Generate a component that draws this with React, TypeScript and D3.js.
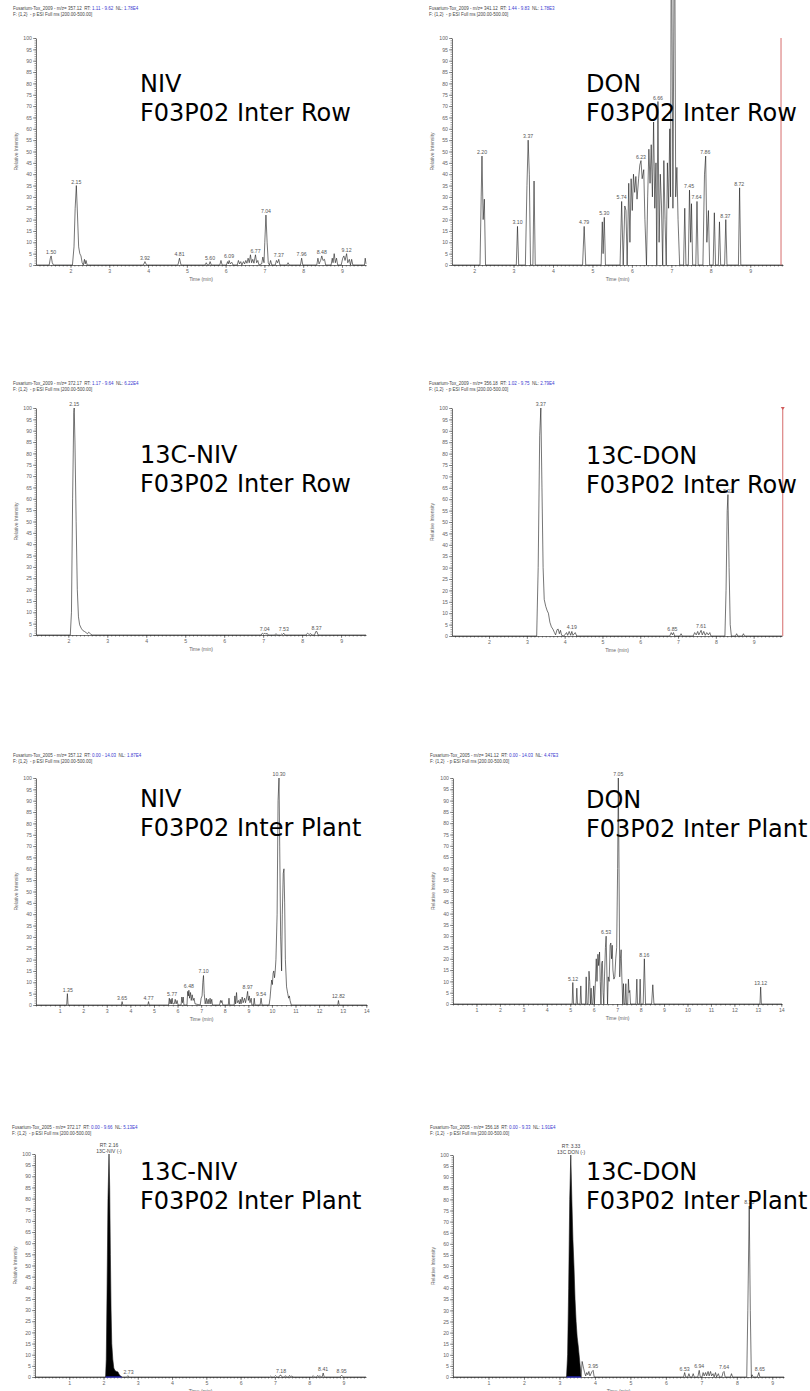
import { useEffect, useRef } from 'react';
import * as d3 from 'd3';

type Pt = [number, number];

// ---------- data: [time (min), relative intensity] ----------

const nivRowTrace: Pt[] = [
  [1.11, 0], [1.45, 0], [1.48, 3], [1.50, 4], [1.53, 1], [1.56, 0],
  [2.05, 0], [2.09, 8], [2.12, 25], [2.15, 35], [2.18, 22], [2.21, 8], [2.24, 5], [2.27, 4], [2.30, 1], [2.33, 0],
  [2.36, 2.5], [2.38, 0.5], [2.40, 2], [2.43, 0],
  [3.88, 0], [3.92, 1.5], [3.96, 0], [4.77, 0], [4.81, 3], [4.85, 0],
  [5.47, 0], [5.50, 1], [5.53, 0], [5.57, 0], [5.60, 1.5], [5.63, 0], [5.85, 0], [5.88, 2], [5.91, 0],
  [6.02, 0], [6.05, 1.5], [6.07, 0.5], [6.09, 2], [6.12, 0.5], [6.16, 1.2], [6.19, 0],
  [6.30, 0], [6.33, 2], [6.36, 0.5], [6.39, 1.5], [6.42, 0], [6.46, 1.5], [6.49, 0.5], [6.52, 2], [6.55, 0.8],
  [6.58, 3], [6.61, 1], [6.64, 4.5], [6.67, 1], [6.70, 2.5], [6.73, 0.8], [6.77, 4.5], [6.80, 1], [6.83, 2], [6.86, 0],
  [6.93, 0.5], [6.96, 3.5], [6.99, 1], [7.01, 10], [7.04, 22], [7.07, 10], [7.10, 1], [7.13, 0], [7.16, 2], [7.19, 0],
  [7.28, 0], [7.31, 2], [7.34, 1], [7.37, 2.5], [7.40, 0], [7.58, 0], [7.61, 1], [7.64, 0],
  [7.93, 0], [7.96, 3], [7.99, 0], [8.35, 0], [8.38, 3], [8.41, 0.5], [8.45, 2], [8.48, 4], [8.51, 2], [8.55, 2.5], [8.58, 0],
  [8.72, 0], [8.75, 3], [8.77, 1], [8.80, 5], [8.83, 1], [8.86, 3], [8.89, 0],
  [8.98, 0], [9.02, 3], [9.05, 4], [9.08, 2], [9.12, 5], [9.15, 1], [9.19, 2.5], [9.22, 0], [9.25, 2.5], [9.28, 0],
  [9.58, 0], [9.60, 3], [9.62, 0.5],
];
const nivRowLabels: Pt[] = [
  [1.50, 4], [2.15, 35], [3.92, 1.5], [4.81, 3], [5.60, 1.5], [6.09, 2], [6.77, 4.5], [7.04, 22], [7.37, 2.5], [7.96, 3], [8.48, 4], [9.12, 5],
];

const donRowTrace: Pt[] = [
  [1.44, 0], [2.15, 0], [2.18, 30], [2.20, 48], [2.23, 20], [2.26, 29], [2.29, 0],
  [3.07, 0], [3.10, 17], [3.13, 0], [3.30, 0], [3.34, 35], [3.37, 55], [3.40, 40], [3.43, 0], [3.49, 0], [3.52, 37], [3.55, 0],
  [4.75, 0], [4.79, 17], [4.83, 0], [5.22, 0], [5.25, 19], [5.27, 5], [5.30, 21], [5.33, 0],
  [5.70, 0], [5.74, 28], [5.78, 0], [5.82, 26], [5.85, 24], [5.88, 0], [5.92, 36], [5.95, 10], [5.98, 38], [6.01, 24],
  [6.04, 40], [6.07, 32], [6.10, 39], [6.13, 29], [6.17, 38], [6.20, 44], [6.23, 46], [6.26, 38], [6.30, 42], [6.33, 20],
  [6.37, 0], [6.40, 30], [6.43, 51], [6.46, 36], [6.49, 53], [6.52, 30], [6.55, 63], [6.58, 25], [6.61, 45], [6.63, 0],
  [6.66, 72], [6.69, 10], [6.72, 40], [6.75, 26], [6.78, 0], [6.81, 46], [6.84, 20], [6.87, 0], [6.90, 45], [6.93, 25],
  [6.96, 60], [6.98, 30], [7.00, 170], [7.04, 25], [7.08, 170], [7.11, 30], [7.14, 43], [7.17, 20], [7.21, 0],
  [7.31, 0], [7.34, 25], [7.37, 0], [7.43, 0], [7.46, 33], [7.49, 10], [7.51, 27], [7.54, 0], [7.62, 0], [7.65, 28], [7.68, 0],
  [7.80, 0], [7.84, 40], [7.87, 48], [7.90, 10], [7.94, 24], [7.97, 0], [8.06, 0], [8.09, 23], [8.12, 0],
  [8.19, 0], [8.22, 19], [8.25, 0], [8.35, 0], [8.38, 20], [8.41, 0], [8.70, 0], [8.73, 34], [8.76, 0], [9.83, 0],
];
const donRowLabels: Pt[] = [
  [2.20, 48], [3.10, 17], [3.37, 55], [4.79, 17], [5.30, 21], [5.74, 28], [6.23, 46], [6.66, 72], [7.45, 33], [7.64, 28], [7.86, 48], [8.37, 20], [8.72, 34],
];

const nivRow13CTrace: Pt[] = [
  [1.17, 0], [2.05, 0], [2.08, 10], [2.11, 60], [2.14, 98], [2.15, 100], [2.17, 85], [2.20, 50], [2.23, 20], [2.26, 8],
  [2.29, 4.5], [2.33, 3], [2.37, 2], [2.42, 1.5], [2.46, 1], [2.49, 0.5], [2.52, 1.2], [2.55, 0.8], [2.58, 0.3], [2.62, 0],
  [6.95, 0], [6.98, 0.8], [7.01, 0.3], [7.04, 0.9], [7.07, 0.3], [7.10, 0.8], [7.13, 0], [7.30, 0], [7.33, 0.6], [7.36, 0],
  [7.45, 0], [7.48, 0.5], [7.50, 0.2], [7.53, 0.8], [7.56, 0], [8.10, 0], [8.14, 0.8], [8.18, 0.2], [8.22, 0.6], [8.25, 0],
  [8.32, 0], [8.35, 1.5], [8.38, 1.5], [8.41, 0], [9.64, 0],
];
const nivRow13CLabels: Pt[] = [[2.15, 100], [7.04, 0.9], [7.53, 0.8], [8.37, 1.5]];

const donRow13CTrace: Pt[] = [
  [1.02, 0], [3.26, 0], [3.30, 30], [3.34, 88], [3.37, 100], [3.40, 65], [3.43, 30], [3.46, 16], [3.50, 13], [3.54, 11],
  [3.57, 10], [3.61, 6], [3.65, 4], [3.69, 3], [3.73, 1.5], [3.76, 0.5], [3.80, 2.8], [3.83, 3], [3.86, 1], [3.89, 2.5],
  [3.92, 0.3], [3.98, 0], [4.05, 1.5], [4.08, 0.3], [4.12, 2], [4.16, 0.3], [4.19, 2], [4.22, 0.3], [4.28, 1.5], [4.32, 0],
  [6.78, 0], [6.82, 1.5], [6.85, 0.5], [6.88, 1.5], [6.91, 0], [7.05, 0], [7.08, 1], [7.11, 0],
  [7.40, 0], [7.44, 1.5], [7.48, 0.5], [7.52, 2], [7.55, 0.5], [7.58, 1.5], [7.61, 2.5], [7.64, 0.5], [7.68, 2], [7.72, 0.3],
  [7.76, 1.5], [7.80, 0.5], [7.84, 1.5], [7.87, 0],
  [8.24, 0], [8.27, 20], [8.30, 55], [8.32, 62], [8.35, 30], [8.38, 5], [8.41, 0], [8.52, 0], [8.55, 1], [8.58, 0],
  [8.70, 0], [8.73, 1], [8.76, 0], [9.75, 0],
];
const donRow13CLabels: Pt[] = [[3.37, 100], [4.19, 2], [6.85, 1.5], [7.61, 2.5], [8.32, 62]];

const nivPlantTrace: Pt[] = [
  [0, 0], [1.30, 0], [1.33, 5], [1.36, 0], [3.62, 0], [3.65, 1.5], [3.68, 0], [4.74, 0], [4.77, 1.5], [4.80, 0],
  [5.62, 0], [5.65, 3], [5.68, 0.5], [5.72, 2.5], [5.74, 0.5], [5.77, 3], [5.80, 0.5], [5.86, 0.5], [5.90, 2.5], [5.94, 0.5],
  [5.98, 2], [6.02, 0], [6.15, 0], [6.18, 3.5], [6.21, 1], [6.24, 3.5], [6.27, 0],
  [6.40, 0], [6.43, 6], [6.46, 4], [6.48, 6.5], [6.51, 3], [6.55, 5.5], [6.58, 2], [6.62, 4.5], [6.66, 2], [6.70, 3], [6.74, 0.5],
  [6.96, 0], [7.00, 3], [7.04, 4], [7.07, 10], [7.10, 13], [7.13, 5], [7.17, 0.5], [7.22, 3], [7.25, 0.5], [7.30, 2.5],
  [7.33, 0.5], [7.38, 3], [7.41, 0.5], [7.45, 2.5], [7.48, 0], [7.78, 0], [7.82, 2], [7.85, 1], [7.88, 2], [7.92, 0],
  [8.15, 0], [8.18, 3], [8.21, 0], [8.40, 0], [8.43, 4], [8.46, 0.5], [8.50, 5.5], [8.53, 1], [8.58, 2], [8.62, 0.5],
  [8.66, 2.5], [8.69, 0.5], [8.74, 3.5], [8.78, 1], [8.84, 3], [8.88, 1], [8.94, 4], [8.97, 6], [9.00, 2], [9.04, 4],
  [9.07, 1], [9.12, 3], [9.15, 0], [9.22, 0], [9.25, 3], [9.28, 0], [9.50, 0], [9.54, 3], [9.58, 0],
  [9.88, 0], [9.92, 3], [9.96, 8], [9.99, 11], [10.02, 9], [10.05, 14], [10.08, 15], [10.11, 12], [10.14, 15], [10.17, 20],
  [10.22, 40], [10.26, 90], [10.30, 100], [10.33, 70], [10.37, 30], [10.41, 15], [10.44, 40], [10.48, 58], [10.51, 60],
  [10.54, 45], [10.57, 20], [10.62, 8], [10.67, 5], [10.71, 3], [10.74, 4], [10.77, 2], [10.82, 0],
  [12.79, 0], [12.82, 2], [12.85, 0], [14.03, 0],
];
const nivPlantLabels: Pt[] = [
  [1.35, 5], [3.65, 1.5], [4.77, 1.5], [5.77, 3], [6.48, 6.5], [7.10, 13], [8.97, 6], [9.54, 3], [10.30, 100], [12.82, 2],
];

const donPlantTrace: Pt[] = [
  [0, 0], [5.08, 0], [5.11, 9.5], [5.14, 0], [5.25, 0], [5.28, 7], [5.31, 0], [5.42, 0], [5.45, 8], [5.48, 0],
  [5.65, 0], [5.68, 12], [5.71, 0], [5.76, 0], [5.80, 14.5], [5.83, 10], [5.86, 0], [5.89, 7], [5.92, 0],
  [5.96, 0], [6.00, 8], [6.03, 0], [6.07, 9], [6.11, 20], [6.14, 10], [6.18, 22], [6.21, 17], [6.25, 23], [6.28, 10],
  [6.31, 0], [6.34, 18], [6.37, 19], [6.40, 5], [6.43, 0], [6.46, 12], [6.50, 25], [6.53, 30], [6.56, 15], [6.59, 0],
  [6.62, 12], [6.66, 10], [6.70, 26], [6.73, 27], [6.76, 20], [6.79, 26], [6.82, 15], [6.86, 11], [6.90, 12], [6.94, 20],
  [6.98, 25], [7.02, 60], [7.05, 100], [7.08, 60], [7.11, 12], [7.14, 20], [7.17, 24], [7.20, 12], [7.24, 0],
  [7.27, 9], [7.30, 0], [7.34, 0], [7.37, 9], [7.40, 0], [7.45, 0], [7.48, 11], [7.51, 5], [7.54, 6], [7.57, 0],
  [7.80, 0], [7.84, 11], [7.87, 0], [7.95, 0], [7.98, 11], [8.01, 0], [8.11, 0], [8.16, 20], [8.21, 0],
  [8.47, 0], [8.52, 8.5], [8.57, 0], [13.09, 0], [13.12, 7.5], [13.15, 0], [14.03, 0],
];
const donPlantLabels: Pt[] = [[5.12, 9.5], [6.53, 30], [7.05, 100], [8.16, 20], [13.12, 7.5]];

const nivPlant13CPeak: Pt[] = [
  [2.06, 0], [2.08, 8], [2.10, 35], [2.13, 80], [2.16, 100], [2.18, 85], [2.20, 55], [2.22, 30], [2.24, 15], [2.27, 8],
  [2.30, 4], [2.33, 3], [2.37, 2.5], [2.40, 2.5], [2.43, 2], [2.46, 1], [2.50, 0.5], [2.53, 0],
];
const nivPlant13CTrace: Pt[] = [
  [0, 0], ...nivPlant13CPeak,
  [2.68, 0], [2.71, 0.6], [2.74, 0], [6.85, 0], [6.88, 0.4], [6.91, 0], [6.98, 0], [7.02, 0.6], [7.06, 0],
  [7.12, 0], [7.15, 0.8], [7.18, 0.8], [7.21, 0], [7.28, 0], [7.31, 0.6], [7.34, 0], [7.40, 0], [7.43, 0.7], [7.46, 0],
  [7.50, 0.5], [7.53, 0], [8.08, 0], [8.12, 0.6], [8.15, 0], [8.22, 0], [8.25, 0.7], [8.28, 0], [8.32, 0.6], [8.35, 0],
  [8.38, 0], [8.41, 1.8], [8.44, 0], [8.90, 0], [8.95, 0.8], [9.00, 0], [9.66, 0],
];
const nivPlant13CLabels: Pt[] = [[2.73, 0.6], [7.18, 0.8], [8.41, 1.8], [8.95, 0.8]];

const donPlant13CPeak: Pt[] = [
  [3.20, 0], [3.23, 10], [3.26, 40], [3.29, 80], [3.32, 100], [3.35, 80], [3.38, 62], [3.41, 50], [3.44, 35],
  [3.47, 25], [3.50, 18], [3.53, 14], [3.56, 9], [3.59, 4], [3.61, 0],
];
const donPlant13CTrace: Pt[] = [
  [0, 0], ...donPlant13CPeak,
  [3.64, 7], [3.68, 4], [3.71, 2], [3.74, 0.5], [3.77, 2], [3.80, 1], [3.83, 2.5], [3.86, 0.5], [3.92, 2.5], [3.95, 3], [3.98, 0],
  [6.50, 0], [6.53, 2], [6.56, 0], [6.62, 0], [6.65, 1.5], [6.68, 0], [6.74, 0], [6.77, 1.5], [6.80, 0], [6.90, 0], [6.94, 3],
  [6.97, 0], [7.02, 0], [7.05, 2], [7.08, 0.5], [7.12, 2], [7.15, 0.5], [7.19, 2.5], [7.22, 0.5], [7.26, 2.5], [7.29, 0.5],
  [7.33, 1.5], [7.36, 0], [7.40, 2], [7.43, 0], [7.48, 1.5], [7.51, 0], [7.58, 0], [7.61, 2], [7.64, 2.5], [7.67, 0],
  [7.82, 0], [7.85, 1.5], [7.88, 0], [8.28, 0], [8.31, 30], [8.35, 77], [8.38, 30], [8.41, 0], [8.43, 1], [8.46, 0],
  [8.58, 0], [8.62, 2], [8.65, 0], [9.33, 0],
];
const donPlant13CLabels: Pt[] = [[3.95, 3], [6.53, 2], [6.94, 3], [7.64, 2.5], [8.35, 77], [8.65, 2]];

const yTicks = [0, 5, 10, 15, 20, 25, 30, 35, 40, 45, 50, 55, 60, 65, 70, 75, 80, 85, 90, 95, 100];

interface Panel {
  box: [number, number, number, number]; // left, right, top(100), bottom(0)
  headY: number;
  domain: [number, number];
  file: string;
  mz: string;
  rt: string;
  nl: string;
  title: string[];
  titleAt: [number, number];
  trace: Pt[];
  labels: Pt[];
  minor: number;
  peak?: Pt[];
  rtNote?: [number, string, string];
  marker?: number;
  markerHead?: boolean;
}

const panels: Panel[] = [
  { box: [36, 366, 38, 265], headY: 10, domain: [1.11, 9.62], file: 'Fusarium-Tox_2009', mz: '357.12', rt: '1.11 - 9.62', nl: '1.78E4',
    title: ['NIV', 'F03P02 Inter Row'], titleAt: [140, 92], trace: nivRowTrace, labels: nivRowLabels, minor: 0.1 },
  { box: [452, 783, 38, 265], headY: 10, domain: [1.44, 9.83], file: 'Fusarium-Tox_2009', mz: '341.12', rt: '1.44 - 9.83', nl: '1.78E3',
    title: ['DON', 'F03P02 Inter Row'], titleAt: [586, 92], trace: donRowTrace, labels: donRowLabels, minor: 0.1, marker: 9.78 },
  { box: [36, 366, 408, 635], headY: 385, domain: [1.17, 9.64], file: 'Fusarium-Tox_2009', mz: '372.17', rt: '1.17 - 9.64', nl: '6.22E4',
    title: ['13C-NIV', 'F03P02 Inter Row'], titleAt: [140, 463], trace: nivRow13CTrace, labels: nivRow13CLabels, minor: 0.1 },
  { box: [452, 782, 408, 636], headY: 385, domain: [1.02, 9.75], file: 'Fusarium-Tox_2009', mz: '356.18', rt: '1.02 - 9.75', nl: '2.79E4',
    title: ['13C-DON', 'F03P02 Inter Row'], titleAt: [586, 464], trace: donRow13CTrace, labels: donRow13CLabels, minor: 0.1,
    marker: 9.77, markerHead: true },
  { box: [36, 367, 778, 1005], headY: 757, domain: [0, 14.03], file: 'Fusarium-Tox_2005', mz: '357.12', rt: '0.00 - 14.03', nl: '1.87E4',
    title: ['NIV', 'F03P02 Inter Plant'], titleAt: [140, 807], trace: nivPlantTrace, labels: nivPlantLabels, minor: 0.2 },
  { box: [453, 782, 778, 1004], headY: 757, domain: [0, 14.03], file: 'Fusarium-Tox_2005', mz: '341.12', rt: '0.00 - 14.03', nl: '4.47E3',
    title: ['DON', 'F03P02 Inter Plant'], titleAt: [586, 808], trace: donPlantTrace, labels: donPlantLabels, minor: 0.2 },
  { box: [35, 366, 1154, 1377], headY: 1129, domain: [0, 9.66], file: 'Fusarium-Tox_2005', mz: '372.17', rt: '0.00 - 9.66', nl: '5.13E4',
    title: ['13C-NIV', 'F03P02 Inter Plant'], titleAt: [140, 1180], trace: nivPlant13CTrace, labels: nivPlant13CLabels, minor: 0.1,
    peak: nivPlant13CPeak, rtNote: [2.16, 'RT: 2.16', '13C-NIV (-)'] },
  { box: [453, 784, 1155, 1377], headY: 1129, domain: [0, 9.33], file: 'Fusarium-Tox_2005', mz: '356.18', rt: '0.00 - 9.33', nl: '1.91E4',
    title: ['13C-DON', 'F03P02 Inter Plant'], titleAt: [586, 1180], trace: donPlant13CTrace, labels: donPlant13CLabels, minor: 0.1,
    peak: donPlant13CPeak, rtNote: [3.33, 'RT: 3.33', '13C DON (-)'] },
];

const SMALL = '"Liberation Sans", Arial, sans-serif';
const BIG = '"DejaVu Sans", sans-serif';
const GREY = '#666';
const BLUE = '#3a3ad0';

function drawPanel(svg: d3.Selection<SVGSVGElement, unknown, null, undefined>, p: Panel) {
  const [left, right, top, bottom] = p.box;
  const x = d3.scaleLinear().domain(p.domain).range([left, right]);
  const y = d3.scaleLinear().domain([0, 100]).range([bottom, top]);
  const g = svg.append('g');

  // header lines
  const h1 = g.append('text')
    .attr('x', left - 23).attr('y', p.headY)
    .attr('font-family', SMALL).attr('font-size', 4.5).attr('fill', '#444')
    .style('white-space', 'pre');
  h1.append('tspan').text(`${p.file} - m/z= ${p.mz}  RT: `);
  h1.append('tspan').attr('fill', BLUE).text(p.rt);
  h1.append('tspan').text('  NL: ');
  h1.append('tspan').attr('fill', BLUE).text(p.nl);
  g.append('text')
    .attr('x', left - 23).attr('y', p.headY + 6)
    .attr('font-family', SMALL).attr('font-size', 4.5).attr('fill', '#444')
    .style('white-space', 'pre')
    .text('F: {1,2}  - p ESI Full ms [200.00-500.00]');

  // y axis
  const yAxis = g.append('g').attr('transform', `translate(${left},0)`)
    .call(d3.axisLeft(y).tickValues(yTicks).tickSize(3).tickSizeOuter(0).tickPadding(1));
  g.append('g').attr('transform', `translate(${left},0)`)
    .call(d3.axisLeft(y).tickValues(d3.range(0, 101, 1)).tickSize(1.5).tickFormat(() => ''))
    .call(s => s.select('.domain').remove());

  // x axis
  const [d0, d1] = p.domain;
  const majors = d3.range(Math.max(1, Math.ceil(d0)), Math.floor(d1) + 1);
  const xAxis = g.append('g').attr('transform', `translate(0,${bottom})`)
    .call(d3.axisBottom(x).tickValues(majors).tickSize(3).tickSizeOuter(0).tickPadding(1.5).tickFormat(d3.format('d')));
  const minors = x.ticks(Math.round((d1 - d0) / p.minor));
  g.append('g').attr('transform', `translate(0,${bottom})`)
    .call(d3.axisBottom(x).tickValues(minors).tickSize(1.6).tickFormat(() => ''))
    .call(s => s.select('.domain').remove());

  g.selectAll('.tick line').attr('stroke', '#333').attr('stroke-width', 0.5);
  [yAxis, xAxis].forEach(a => {
    a.attr('font-family', SMALL).attr('font-size', 5.2);
    a.select('.domain').attr('stroke', '#333').attr('stroke-width', 0.7);
    a.selectAll('text').attr('fill', GREY);
  });

  // axis titles
  g.append('text')
    .attr('transform', `translate(${left - 18},${(top + bottom) / 2}) rotate(-90)`)
    .attr('text-anchor', 'middle').attr('font-family', SMALL).attr('font-size', 5).attr('fill', GREY)
    .text('Relative Intensity');
  g.append('text')
    .attr('x', (left + right) / 2).attr('y', bottom + 16)
    .attr('text-anchor', 'middle').attr('font-family', SMALL).attr('font-size', 5).attr('fill', GREY)
    .text('Time (min)');

  // filled integrated peak
  if (p.peak) {
    g.append('path')
      .attr('d', d3.area<Pt>().x(d => x(d[0])).y0(y(0)).y1(d => y(d[1]))(p.peak))
      .attr('fill', '#000');
    const ext = d3.extent(p.peak, d => d[0]) as [number, number];
    g.append('line')
      .attr('x1', x(ext[0])).attr('x2', x(ext[1])).attr('y1', y(0)).attr('y2', y(0))
      .attr('stroke', '#2b2bd6').attr('stroke-width', 1.2);
  }

  // trace
  g.append('path')
    .attr('d', d3.line<Pt>().x(d => x(d[0])).y(d => y(d[1]))(p.trace))
    .attr('fill', 'none').attr('stroke', '#1a1a1a').attr('stroke-width', 0.6).attr('stroke-linejoin', 'round');

  // peak labels
  g.selectAll('.plabel')
    .data(p.labels)
    .enter()
    .append('text')
    .attr('x', d => x(d[0])).attr('y', d => y(d[1]) - 2)
    .attr('text-anchor', 'middle').attr('font-family', SMALL).attr('font-size', 5.2).attr('fill', '#555')
    .text(d => d[0].toFixed(2));

  if (p.rtNote) {
    const [t, a, b] = p.rtNote;
    g.append('text').attr('x', x(t)).attr('y', top - 7.5)
      .attr('text-anchor', 'middle').attr('font-family', SMALL).attr('font-size', 5).attr('fill', '#444').text(a);
    g.append('text').attr('x', x(t)).attr('y', top - 1.5)
      .attr('text-anchor', 'middle').attr('font-family', SMALL).attr('font-size', 5).attr('fill', '#444').text(b);
  }

  // red marker line
  if (p.marker !== undefined) {
    const mx = x(p.marker);
    g.append('line').attr('x1', mx).attr('x2', mx).attr('y1', top).attr('y2', bottom)
      .attr('stroke', '#d05a5a').attr('stroke-width', 0.9);
    if (p.markerHead) {
      g.append('path').attr('d', `M${mx - 2},${top - 1}L${mx + 2},${top - 1}L${mx},${top + 2}Z`).attr('fill', '#d05a5a');
    }
  }

  // big annotation
  const tt = g.append('text').attr('font-family', BIG).attr('font-size', 24).attr('fill', '#000');
  p.title.forEach((line, i) => {
    tt.append('tspan').attr('x', p.titleAt[0]).attr('y', p.titleAt[1] + i * 29).text(line);
  });
}

export default function App() {
  const svgRef = useRef<SVGSVGElement>(null);

  useEffect(() => {
    if (!svgRef.current) return;
    const svg = d3.select(svgRef.current);
    svg.selectAll('*').remove();
    svg.append('rect').attr('width', 810).attr('height', 1391).attr('fill', '#fff');
    panels.forEach(p => drawPanel(svg, p));
  }, []);

  return (
    <div style={{ position: 'absolute', left: 0, top: 0 }}>
      <svg ref={svgRef} width={810} height={1391} style={{ display: 'block' }} />
    </div>
  );
}
